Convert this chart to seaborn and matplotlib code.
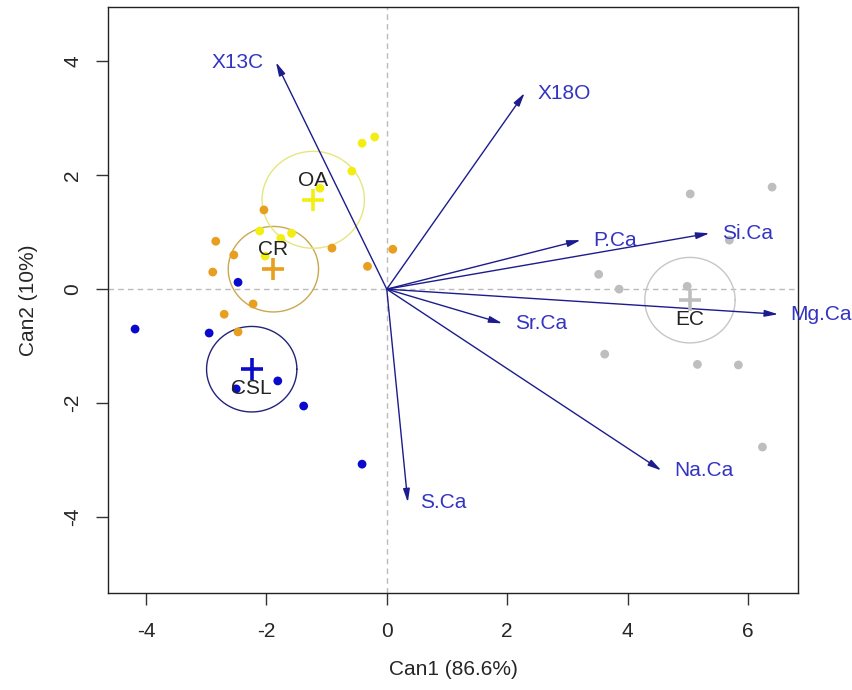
import matplotlib.pyplot as plt
import seaborn as sns
import pandas as pd
import numpy as np

# canonical scores
csl_x = [-4.18, -2.95, -2.47, -2.50, -1.81, -1.38, -0.41]
csl_y = [-0.70, -0.77, 0.12, -1.75, -1.61, -2.05, -3.07]
cr_x = [-2.04, -2.84, -2.54, -2.89, -0.91, 0.10, -0.32, -2.22, -2.70, -2.47]
cr_y = [1.39, 0.84, 0.60, 0.30, 0.72, 0.70, 0.40, -0.26, -0.44, -0.75]
oa_x = [-0.41, -0.20, -0.58, -1.11, -2.11, -1.76, -1.58, -2.02]
oa_y = [2.56, 2.67, 2.07, 1.77, 1.02, 0.89, 0.98, 0.58]
ec_x = [5.04, 6.40, 5.69, 3.52, 3.86, 4.99, 3.62, 5.16, 5.84, 6.24]
ec_y = [1.67, 1.79, 0.86, 0.26, 0.00, 0.05, -1.14, -1.32, -1.33, -2.77]

group_names = ["CSL", "CR", "OA", "EC"]
group_radius = [0.75, 0.75, 0.85, 0.75]

# structure vectors
var_names = ["X13C", "X18O", "P.Ca", "Si.Ca", "Mg.Ca", "Sr.Ca", "Na.Ca", "S.Ca"]
var_x = [-1.84, 2.29, 3.22, 5.36, 6.50, 1.92, 4.56, 0.35]
var_y = [3.98, 3.44, 0.86, 0.98, -0.44, -0.60, -3.18, -3.74]

xticks = [-4, -2, 0, 2, 4, 6]
yticks = [-4, -2, 0, 2, 4]

point_colors = {"CSL": "#0A0ACD", "CR": "#E89E1E", "OA": "#F2EE12", "EC": "#BEBEBE"}
circle_colors = {"CSL": "#23237A", "CR": "#C9A850", "OA": "#E6E67E", "EC": "#C6C6C6"}

scores = pd.DataFrame({
    "Can1": csl_x + cr_x + oa_x + ec_x,
    "Can2": csl_y + cr_y + oa_y + ec_y,
    "group": ["CSL"] * len(csl_x) + ["CR"] * len(cr_x) + ["OA"] * len(oa_x) + ["EC"] * len(ec_x),
})

sns.set_style("white")
plt.rcParams["font.family"] = ["Liberation Sans", "DejaVu Sans"]
plt.rcParams["axes.unicode_minus"] = False

fig = plt.figure(figsize=(8.53, 6.9), dpi=100)
ax = fig.add_axes([0.1266, 0.1406, 0.8089, 0.8493])

ax.axhline(0, color="#BBBBBB", lw=1, ls=(0, (4, 3)), zorder=0)
ax.axvline(0, color="#BBBBBB", lw=1, ls=(0, (4, 3)), zorder=0)

sns.scatterplot(data=scores, x="Can1", y="Can2", hue="group", palette=point_colors,
                s=40, edgecolor="none", legend=False, ax=ax, zorder=3)

# group means, circles and labels
means = scores.groupby("group")[["Can1", "Can2"]].mean()
t = np.linspace(0, 2 * np.pi, 200)
for g, r in zip(group_names, group_radius):
    cx, cy = means.loc[g, "Can1"], means.loc[g, "Can2"]
    ax.plot(cx + r * np.cos(t), cy + r * np.sin(t), color=circle_colors[g], lw=1, zorder=2)
    ax.scatter([cx], [cy], marker="+", s=260, linewidths=2.6, color=point_colors[g], zorder=4)
    dy = 14 if cy > 0 else -14
    ax.annotate(g, (cx, cy), xytext=(0, dy), textcoords="offset points",
                ha="center", va="center", fontsize=15, color="#222222", zorder=5)

# variable vectors
for name, vx, vy in zip(var_names, var_x, var_y):
    ax.annotate("", xy=(vx, vy), xytext=(0, 0),
                arrowprops=dict(arrowstyle="-|>,head_length=0.8,head_width=0.2",
                                mutation_scale=10, color="#1C1C8E", lw=1,
                                shrinkA=0, shrinkB=0), zorder=3)
    dx = 9 if vx > 0 else -9
    ax.annotate(name, (vx, vy), xytext=(dx, 0), textcoords="offset points",
                ha="left" if vx > 0 else "right", va="center",
                fontsize=15, color="#3434C4", annotation_clip=False)

ax.set_xlim(-4.63, 6.83)
ax.set_ylim(-5.33, 4.95)
ax.set_xticks(xticks)
ax.set_xticklabels([str(v) for v in xticks])
ax.set_yticks(yticks)
ax.set_yticklabels([str(v) for v in yticks], rotation=90, va="center")
ax.tick_params(direction="out", length=8.6, width=1, labelsize=15, color="#333333",
               left=True, bottom=True)
ax.tick_params(axis="x", pad=12)
ax.tick_params(axis="y", pad=10)
for sp in ax.spines.values():
    sp.set_color("#222222")
    sp.set_linewidth(1)

ax.set_xlabel("Can1 (86.6%)", fontsize=15, labelpad=14)
ax.set_ylabel("Can2 (10%)", fontsize=15, labelpad=18)

plt.savefig("out.png", dpi=100)
